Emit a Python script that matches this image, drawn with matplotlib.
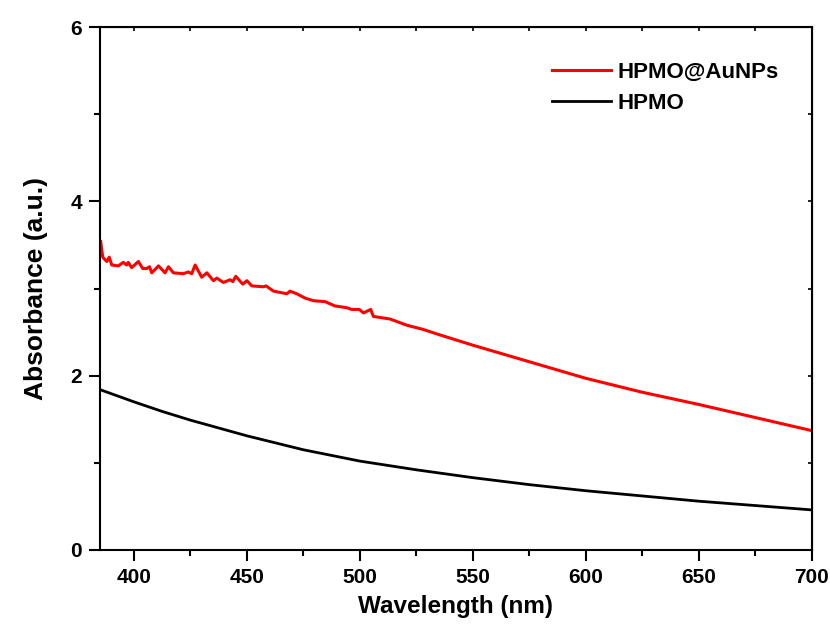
import matplotlib.pyplot as plt
from matplotlib.ticker import MultipleLocator

plt.rcParams["font.family"] = ["Liberation Sans", "DejaVu Sans"]
plt.rcParams["font.weight"] = "bold"

# HPMO@AuNPs (red)
red_wl = [385.3, 386.2, 388.0, 389.1, 390.2, 393.1, 395.3, 396.8, 397.5, 399.0,
          402.0, 403.9, 405.7, 406.9, 407.9, 410.9, 413.8, 415.3, 417.5, 421.9,
          424.1, 425.6, 427.1, 430.0, 432.3, 435.2, 436.7, 439.6, 442.6, 443.8,
          445.1, 448.2, 450.0, 452.2, 457.4, 458.5, 461.8, 467.7, 469.1, 472.1,
          475.8, 479.5, 484.6, 489.0, 494.2, 496.4, 499.8, 501.6, 504.8, 506.0,
          513.4, 520.7, 528.1, 535.2, 550, 575, 600, 625, 650, 675, 700]
red_abs = [3.54, 3.36, 3.31, 3.36, 3.27, 3.26, 3.30, 3.27, 3.30, 3.24,
           3.31, 3.23, 3.23, 3.25, 3.18, 3.26, 3.18, 3.25, 3.18, 3.17,
           3.19, 3.17, 3.27, 3.13, 3.18, 3.09, 3.12, 3.07, 3.10, 3.08,
           3.14, 3.05, 3.09, 3.03, 3.02, 3.03, 2.97, 2.94, 2.97, 2.94,
           2.89, 2.86, 2.85, 2.80, 2.78, 2.76, 2.76, 2.72, 2.76, 2.68,
           2.65, 2.58, 2.53, 2.47, 2.35, 2.16, 1.97, 1.81, 1.67, 1.52, 1.37]

# HPMO (black)
black_wl = [385, 400, 412.5, 425, 437.5, 450, 475, 500, 525, 550, 575, 600, 625, 650, 675, 700]
black_abs = [1.84, 1.70, 1.59, 1.49, 1.40, 1.31, 1.15, 1.02, 0.92, 0.83, 0.75, 0.68, 0.62, 0.56, 0.51, 0.46]

fig = plt.figure(figsize=(8.3, 6.29), dpi=100)
ax = fig.add_axes([0.1205, 0.1256, 0.8575, 0.8314])

ax.plot(red_wl, red_abs, color="#ff0000", lw=2.2, label="HPMO@AuNPs")
ax.plot(black_wl, black_abs, color="black", lw=2.0, label="HPMO")

ax.set_xlim(385, 700)
ax.set_ylim(0, 6)
ax.xaxis.set_major_locator(MultipleLocator(50))
ax.xaxis.set_minor_locator(MultipleLocator(25))
ax.yaxis.set_major_locator(MultipleLocator(2))
ax.yaxis.set_minor_locator(MultipleLocator(1))

for s in ax.spines.values():
    s.set_linewidth(1.5)
ax.tick_params(which="major", direction="out", length=8, width=1.5, labelsize=15, pad=5)
ax.tick_params(which="minor", direction="out", length=4, width=1.5)

top = ax.secondary_xaxis("top")
top.xaxis.set_major_locator(MultipleLocator(25))
top.tick_params(direction="in", length=3, width=1.2, labeltop=False)
right = ax.secondary_yaxis("right")
right.yaxis.set_major_locator(MultipleLocator(1))
right.tick_params(direction="in", length=3, width=1.2, labelright=False)

ax.set_xlabel("Wavelength (nm)", fontsize=17.5, fontweight="bold", labelpad=6)
ax.set_ylabel("Absorbance (a.u.)", fontsize=19, fontweight="bold", labelpad=16)

ax.legend(loc="upper right", bbox_to_anchor=(0.982, 0.971), frameon=False,
          fontsize=16, handlelength=2.65, handletextpad=0.3, labelspacing=0.45)

fig.savefig("out.png", dpi=100)
